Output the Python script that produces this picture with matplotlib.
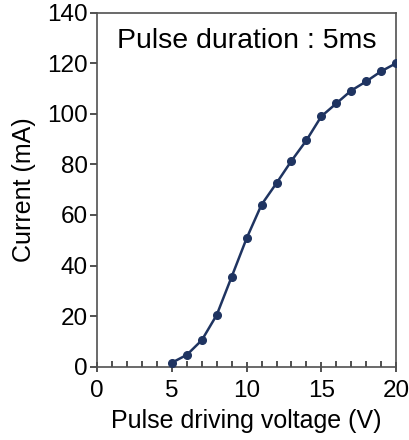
import matplotlib
matplotlib.use("Agg")
import matplotlib.pyplot as plt
from matplotlib.ticker import MultipleLocator

# Data
voltage = [5, 6, 7, 8, 9, 10, 11, 12, 13, 14, 15, 16, 17, 18, 19, 20]
current = [1.6, 4.7, 10.5, 20.5, 35.6, 50.8, 64.1, 72.6, 81.4, 89.5,
           99.0, 104.1, 109.2, 112.8, 116.8, 120.0]

plt.rcParams['font.family'] = ['Liberation Sans', 'DejaVu Sans']

fig = plt.figure(figsize=(4.1, 4.4), dpi=100)
ax = fig.add_axes([0.2373, 0.1666, 0.7285, 0.8045])

ax.plot(voltage, current, color='#1f3461', linewidth=1.8,
        marker='o', markersize=5.5, zorder=3)

ax.set_xlim(0, 20)
ax.set_ylim(0, 140)
ax.xaxis.set_major_locator(MultipleLocator(5))
ax.xaxis.set_minor_locator(MultipleLocator(1))
ax.yaxis.set_major_locator(MultipleLocator(20))

for s in ax.spines.values():
    s.set_color('#505050')
    s.set_linewidth(1.2)

ax.tick_params(axis='x', which='major', direction='inout', length=7,
               width=1.1, color='#202020', labelsize=17.5, pad=6)
ax.tick_params(axis='x', which='minor', direction='in', length=4,
               width=1.1, color='#202020')
ax.tick_params(axis='y', which='major', direction='out', length=5,
               width=1.1, color='#202020', labelsize=17.5, pad=2)

ax.set_xlabel("Pulse driving voltage (V)", fontsize=18, labelpad=5)
ax.set_ylabel("Current (mA)", fontsize=18, labelpad=8)

ax.text(0.5, 0.92, "Pulse duration : 5ms", transform=ax.transAxes,
        ha='center', va='center', fontsize=20.5)

plt.savefig("out.png", dpi=100)
